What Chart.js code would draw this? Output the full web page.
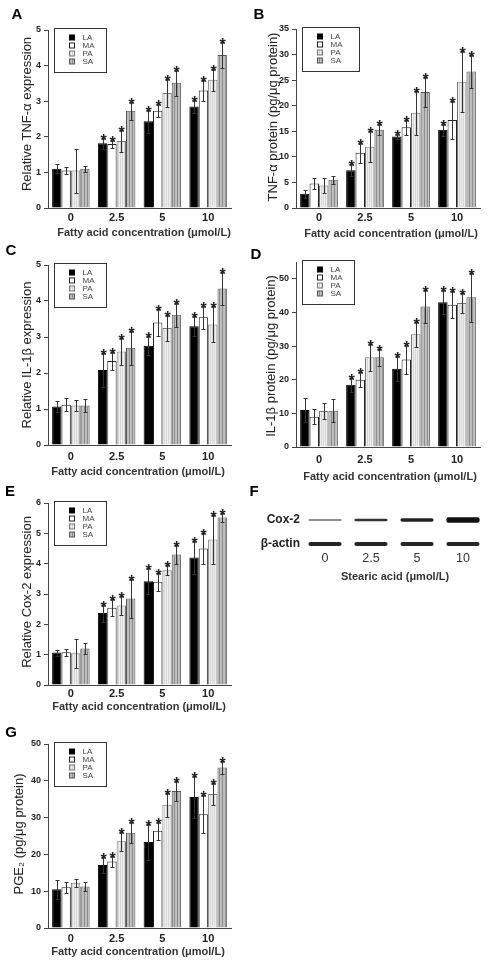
<!DOCTYPE html>
<html>
<head>
<meta charset="utf-8">
<script src="https://cdn.jsdelivr.net/npm/chart.js@4.4.1/dist/chart.umd.min.js"></script>
<style>
  html, body { margin: 0; padding: 0; background: #fff; }
  body { width: 494px; height: 965px; position: relative; overflow: hidden; }
  canvas { position: absolute; }
</style>
</head>
<body>
<canvas id="pA"></canvas>
<canvas id="pB"></canvas>
<canvas id="pC"></canvas>
<canvas id="pD"></canvas>
<canvas id="pE"></canvas>
<canvas id="pF"></canvas>
<canvas id="pG"></canvas>
<script>
const doses = ['0', '2.5', '5', '10'];
const acids = ['LA', 'MA', 'PA', 'SA'];
// significance mark per dose (all acids)
const starred = [0, 1, 1, 1];

// A - relative TNF-a expression
const tnfExpLA = [1.10, 1.82, 2.44, 2.85], tnfExpLAErr = [0.13, 0.15, 0.32, 0.17];
const tnfExpMA = [1.05, 1.80, 2.73, 3.30], tnfExpMAErr = [0.10, 0.12, 0.18, 0.30];
const tnfExpPA = [1.05, 1.88, 3.23, 3.60], tnfExpPAErr = [0.62, 0.30, 0.38, 0.30];
const tnfExpSA = [1.10, 2.73, 3.52, 4.30], tnfExpSAErr = [0.08, 0.25, 0.37, 0.37];

// B - TNF-a protein
const tnfProtLA = [2.8, 7.4, 14.0, 15.3], tnfProtLAErr = [0.8, 1.2, 0.5, 1.2];
const tnfProtMA = [4.8, 10.8, 15.8, 17.2], tnfProtMAErr = [1.0, 2.0, 1.5, 3.7];
const tnfProtPA = [4.4, 12.0, 18.6, 24.7], tnfProtPAErr = [1.5, 3.0, 4.3, 6.0];
const tnfProtSA = [5.5, 15.3, 22.7, 26.7], tnfProtSAErr = [0.8, 1.1, 3.0, 3.2];

// C - relative IL-1b expression
const ilExpLA = [1.07, 2.08, 2.76, 3.30], ilExpLAErr = [0.15, 0.48, 0.27, 0.28];
const ilExpMA = [1.12, 2.33, 3.40, 3.55], ilExpMAErr = [0.18, 0.25, 0.37, 0.32];
const ilExpPA = [1.10, 2.60, 3.25, 3.35], ilExpPAErr = [0.15, 0.38, 0.35, 0.50];
const ilExpSA = [1.10, 2.70, 3.62, 4.35], ilExpSAErr = [0.18, 0.47, 0.33, 0.45];

// D - IL-1b protein
const ilProtLA = [11.0, 18.5, 23.3, 43.0], ilProtLAErr = [3.5, 2.0, 3.8, 3.6];
const ilProtMA = [9.0, 20.0, 26.0, 42.3], ilProtMAErr = [2.3, 2.3, 4.3, 4.0];
const ilProtPA = [10.7, 26.7, 33.5, 42.8], ilProtPAErr = [2.3, 4.0, 3.7, 3.0];
const ilProtSA = [10.8, 26.7, 41.8, 44.5], ilProtSAErr = [3.5, 2.5, 4.8, 7.3];

// E - relative Cox-2 expression
const coxExpLA = [1.07, 2.37, 3.42, 4.20], coxExpLAErr = [0.10, 0.28, 0.43, 0.55];
const coxExpMA = [1.08, 2.55, 3.40, 4.50], coxExpMAErr = [0.12, 0.27, 0.30, 0.52];
const coxExpPA = [1.05, 2.62, 3.78, 4.80], coxExpPAErr = [0.48, 0.30, 0.17, 0.82];
const coxExpSA = [1.20, 2.85, 4.30, 5.52], coxExpSAErr = [0.18, 0.63, 0.30, 0.15];

// F - western blot, band half-thickness (arbitrary units)
const blotRows = ['Cox-2', 'β-actin'];
const coxBand = [0.08, 0.13, 0.18, 0.28];
const actinBand = [0.20, 0.20, 0.20, 0.20];

// G - PGE2
const pgeLA = [10.5, 17.1, 23.4, 35.6], pgeLAErr = [2.5, 2.2, 4.8, 5.6];
const pgeMA = [11.1, 18.1, 26.4, 30.9], pgeMAErr = [1.5, 1.5, 2.5, 5.2];
const pgePA = [12.3, 23.6, 33.5, 36.4], pgePAErr = [1.1, 2.6, 3.3, 3.0];
const pgeSA = [11.3, 25.9, 37.2, 43.6], pgeSAErr = [1.2, 2.8, 2.7, 1.8];

const FONT = '"Liberation Sans", Arial, sans-serif';
Chart.defaults.font.family = FONT;

function stripes(base, line, period, lw) {
  const c = document.createElement('canvas');
  c.width = period; c.height = 4;
  const g = c.getContext('2d');
  g.fillStyle = base; g.fillRect(0, 0, period, 4);
  g.fillStyle = line; g.fillRect(0, 0, lw, 4);
  return g.createPattern(c, 'repeat');
}
const fills = ['#000000', '#ffffff', stripes('#efefef', '#d6d6d6', 2, 1), stripes('#bdbdbd', '#8e8e8e', 3, 1)];
const borders = ['#000000', '#222222', '#777777', '#555555'];

function panelPlugin(p, box) {
  return {
    id: 'deco' + p.letter,
    afterDatasetsDraw(chart) {
      const ctx = chart.ctx, y = chart.scales.y;
      ctx.save();
      ctx.strokeStyle = '#333';
      ctx.lineWidth = 1;
      ctx.fillStyle = '#222';
      ctx.font = 'bold 16px ' + FONT;
      ctx.textAlign = 'center';
      ctx.textBaseline = 'alphabetic';
      chart.data.datasets.forEach((ds, i) => {
        chart.getDatasetMeta(i).data.forEach((bar, j) => {
          const v = ds.data[j], e = ds.err[j];
          const top = Math.round(y.getPixelForValue(v + e)) + 0.5;
          const bot = Math.round(y.getPixelForValue(Math.max(0, v - e))) + 0.5;
          const x = Math.round(bar.x) + 0.5;
          ctx.beginPath();
          ctx.moveTo(x, top); ctx.lineTo(x, bot);
          ctx.moveTo(x - 2, top); ctx.lineTo(x + 2, top);
          ctx.moveTo(x - 2, bot); ctx.lineTo(x + 2, bot);
          ctx.stroke();
          if (starred[j]) ctx.fillText('*', x, top + 7);
        });
      });
      ctx.restore();
    },
    afterDraw(chart) {
      const ctx = chart.ctx;
      const ox = box.x, oy = box.y;
      ctx.save();
      // panel letter
      ctx.fillStyle = '#000';
      ctx.font = 'bold 15px ' + FONT;
      ctx.textAlign = 'center';
      ctx.textBaseline = 'middle';
      ctx.fillText(p.letter, p.lx - ox, p.ly - oy);
      // y title
      ctx.save();
      ctx.translate(p.ytx - ox, p.yty - oy);
      ctx.rotate(-Math.PI / 2);
      ctx.font = '13px ' + FONT;
      ctx.fillStyle = '#222';
      ctx.fillText(p.yTitle, 0, 0);
      ctx.restore();
      // x title
      ctx.font = 'bold 11px ' + FONT;
      ctx.fillStyle = '#333';
      ctx.fillText('Fatty acid concentration (μmol/L)', p.xtx - ox, p.xty - oy);
      // legend
      const a = chart.chartArea;
      const bx = Math.round(a.left + 6) + 0.5, by = Math.round(a.top - 2) + 0.5;
      ctx.strokeStyle = '#333';
      ctx.lineWidth = 1;
      ctx.strokeRect(bx, by, p.legW, 44);
      ctx.font = '8px ' + FONT;
      ctx.textAlign = 'left';
      chart.data.datasets.forEach((ds, i) => {
        const ry = by + 9 + i * 8;
        ctx.fillStyle = ds.backgroundColor;
        ctx.fillRect(bx + 15, ry - 2.5, 5, 5);
        ctx.strokeStyle = ds.borderColor;
        ctx.strokeRect(bx + 15, ry - 2.5, 5, 5);
        ctx.fillStyle = '#444';
        ctx.fillText(ds.label, bx + 28, ry);
      });
      ctx.restore();
    }
  };
}

function makePanel(id, box, plot, p, series) {
  const cv = document.getElementById(id);
  cv.width = box.w; cv.height = box.h;
  cv.style.left = box.x + 'px'; cv.style.top = box.y + 'px';
  const datasets = series.map((s, i) => ({
    label: acids[i], data: s[0], err: s[1],
    backgroundColor: fills[i], borderColor: borders[i], borderWidth: 1,
    categoryPercentage: 0.82, barPercentage: 1.0
  }));
  new Chart(cv, {
    type: 'bar',
    data: { labels: doses, datasets: datasets },
    options: {
      responsive: false, animation: false, devicePixelRatio: 1,
      layout: { padding: { left: 0, top: plot.t - box.y, right: box.x + box.w - plot.r, bottom: 0 } },
      plugins: { legend: { display: false }, tooltip: { enabled: false } },
      scales: {
        x: {
          grid: { display: false, drawTicks: false },
          border: { color: '#444', width: 1 },
          ticks: { font: { size: 11, weight: 'bold' }, color: '#222', padding: p.xPad },
          afterFit(s) { s.height = box.y + box.h - plot.b; }
        },
        y: {
          min: 0, max: p.max,
          ticks: { stepSize: p.step, font: { size: 9, weight: 'bold' }, color: '#222', padding: 3 },
          grid: { drawOnChartArea: false, drawTicks: true, tickLength: 4, color: '#444' },
          border: { color: '#444', width: 1 },
          afterFit(s) { s.width = plot.l - box.x; },
          afterBuildTicks(s) { s.ticks = s.ticks.filter(t => Math.abs(t.value / p.step - Math.round(t.value / p.step)) < 1e-6); }
        }
      }
    },
    plugins: [panelPlugin(p, box)]
  });
}

makePanel('pA', { x: 0, y: 0, w: 247, h: 245 }, { l: 48, t: 30, r: 231, b: 208 },
  { letter: 'A', lx: 17, ly: 15, yTitle: 'Relative TNF-α expression', ytx: 27, yty: 114, xtx: 144, xty: 233, xPad: 3, max: 5, step: 1, legW: 52 },
  [[tnfExpLA, tnfExpLAErr], [tnfExpMA, tnfExpMAErr], [tnfExpPA, tnfExpPAErr], [tnfExpSA, tnfExpSAErr]]);

makePanel('pB', { x: 247, y: 0, w: 247, h: 245 }, { l: 296, t: 29, r: 480, b: 208 },
  { letter: 'B', lx: 259, ly: 15, yTitle: 'TNF-α protein (pg/μg protein)', ytx: 273, yty: 117, xtx: 391, xty: 234, xPad: 3, max: 35, step: 5, legW: 57 },
  [[tnfProtLA, tnfProtLAErr], [tnfProtMA, tnfProtMAErr], [tnfProtPA, tnfProtPAErr], [tnfProtSA, tnfProtSAErr]]);

makePanel('pC', { x: 0, y: 245, w: 247, h: 237 }, { l: 48, t: 265, r: 231, b: 445 },
  { letter: 'C', lx: 11, ly: 251, yTitle: 'Relative IL-1β expression', ytx: 27, yty: 355, xtx: 138, xty: 472, xPad: 5, max: 5, step: 1, legW: 52 },
  [[ilExpLA, ilExpLAErr], [ilExpMA, ilExpMAErr], [ilExpPA, ilExpPAErr], [ilExpSA, ilExpSAErr]]);

makePanel('pD', { x: 247, y: 245, w: 247, h: 237 }, { l: 296, t: 262, r: 480, b: 447 },
  { letter: 'D', lx: 256, ly: 255, yTitle: 'IL-1β protein (pg/μg protein)', ytx: 271, yty: 356, xtx: 390, xty: 477, xPad: 6, max: 55, step: 10, legW: 52 },
  [[ilProtLA, ilProtLAErr], [ilProtMA, ilProtMAErr], [ilProtPA, ilProtPAErr], [ilProtSA, ilProtSAErr]]);

makePanel('pE', { x: 0, y: 482, w: 247, h: 233 }, { l: 48, t: 503, r: 231, b: 685 },
  { letter: 'E', lx: 10, ly: 492, yTitle: 'Relative Cox-2 expression', ytx: 27, yty: 592, xtx: 139, xty: 707, xPad: 2, max: 6, step: 1, legW: 52 },
  [[coxExpLA, coxExpLAErr], [coxExpMA, coxExpMAErr], [coxExpPA, coxExpPAErr], [coxExpSA, coxExpSAErr]]);

makePanel('pG', { x: 0, y: 715, w: 247, h: 250 }, { l: 48, t: 744, r: 231, b: 928 },
  { letter: 'G', lx: 11, ly: 733, yTitle: 'PGE₂ (pg/μg protein)', ytx: 19, yty: 834, xtx: 138, xty: 952, xPad: 4, max: 50, step: 10, legW: 52 },
  [[pgeLA, pgeLAErr], [pgeMA, pgeMAErr], [pgePA, pgePAErr], [pgeSA, pgeSAErr]]);

// F - western blot drawn as floating bars
(function () {
  const box = { x: 247, y: 482, w: 247, h: 233 };
  const plot = { l: 302, t: 510, r: 486, b: 550 };
  const coxRow = 3, actinRow = 0.6;
  const cv = document.getElementById('pF');
  cv.width = box.w; cv.height = box.h;
  cv.style.left = box.x + 'px'; cv.style.top = box.y + 'px';
  new Chart(cv, {
    type: 'bar',
    data: {
      labels: doses,
      datasets: [
        { label: blotRows[0], data: coxBand.map(h => [coxRow - h, coxRow + h]),
          backgroundColor: ['#6a6a6a', '#333333', '#222222', '#111111'] },
        { label: blotRows[1], data: actinBand.map(h => [actinRow - h, actinRow + h]),
          backgroundColor: '#262626' }
      ]
    },
    options: {
      responsive: false, animation: false, devicePixelRatio: 1,
      layout: { padding: { left: plot.l - box.x, top: plot.t - box.y, right: box.x + box.w - plot.r, bottom: 0 } },
      plugins: { legend: { display: false }, tooltip: { enabled: false } },
      datasets: { bar: { grouped: false, categoryPercentage: 1, barPercentage: 0.72, borderWidth: 0, borderRadius: 2, borderSkipped: false } },
      scales: {
        x: {
          grid: { display: false, drawTicks: false }, border: { display: false },
          ticks: { font: { size: 12.5 }, color: '#333', padding: 1 },
          afterFit(s) { s.height = box.y + box.h - plot.b; }
        },
        y: { display: false, min: 0, max: 4 }
      }
    },
    plugins: [{
      id: 'blotDeco',
      beforeDatasetsDraw(chart) { chart.ctx.save(); chart.ctx.filter = 'blur(0.6px)'; },
      afterDatasetsDraw(chart) { chart.ctx.restore(); },
      afterDraw(chart) {
        const ctx = chart.ctx, y = chart.scales.y;
        ctx.save();
        ctx.fillStyle = '#000';
        ctx.font = 'bold 15px ' + FONT;
        ctx.textAlign = 'center';
        ctx.textBaseline = 'middle';
        ctx.fillText('F', 254 - box.x, 492 - box.y);
        ctx.font = 'bold 12px ' + FONT;
        ctx.fillStyle = '#222';
        ctx.textAlign = 'right';
        ctx.fillText(blotRows[0], 300 - box.x, y.getPixelForValue(coxRow));
        ctx.fillText(blotRows[1], 300 - box.x, y.getPixelForValue(actinRow));
        ctx.textAlign = 'center';
        ctx.font = 'bold 11px ' + FONT;
        ctx.fillStyle = '#333';
        ctx.fillText('Stearic acid (μmol/L)', 395 - box.x, 577 - box.y);
        ctx.restore();
      }
    }]
  });
})();
</script>
</body>
</html>
